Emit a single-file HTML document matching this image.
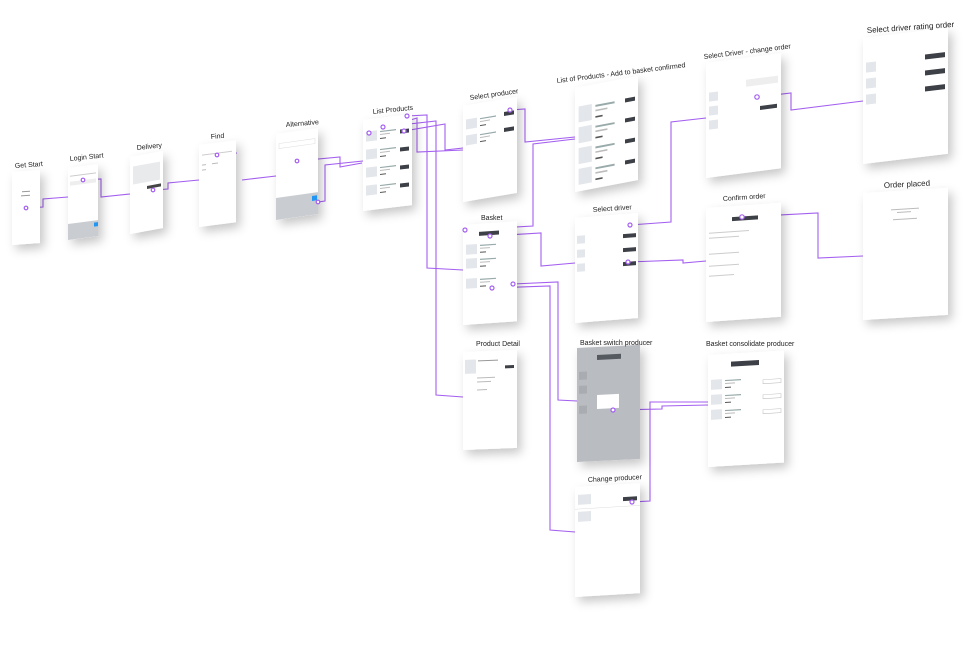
<!DOCTYPE html>
<html><head><meta charset="utf-8"><style>
html,body{margin:0;padding:0;background:#fff;}
svg{display:block}
text{font-family:"Liberation Sans",sans-serif;fill:#222}
</style></head><body>
<svg width="979" height="668" viewBox="0 0 979 668" xmlns="http://www.w3.org/2000/svg">
<defs>
<filter id="sh" x="-30%" y="-20%" width="170%" height="150%">
<feDropShadow dx="4" dy="5" stdDeviation="5" flood-color="#000" flood-opacity="0.22"/>
</filter>
<g id="row">
<rect x="3" y="0" width="11" height="10" fill="#e3e6ea"/>
<rect x="17" y="1" width="16" height="1.2" fill="#9aa"/>
<rect x="17" y="4" width="10" height="1" fill="#bbb"/>
<rect x="17" y="8" width="6" height="1" fill="#555"/>
</g>
</defs>

<!-- connectors -->
<g fill="none" stroke="#a45ff0" stroke-width="1.1">
<polyline points="26,208 43,207 43,199 68,197"/>
<polyline points="83,180 101,179 101,197 130,194"/>
<polyline points="153,190 168,189 168,183 199,180"/>
<polyline points="217,155 237,153"/>
<polyline points="242,180 276,176"/>
<polyline points="297,161 340,157 340,167 362,163"/>
<polyline points="318,202 325,201 325,165 363,161"/>
<polyline points="407,116 427,115 427,268 463,270"/>
<polyline points="383,127 436,121 436,395 463,397"/>
<polyline points="404,131 445,124 445,150 463,148"/>
<polyline points="369,133 417,118 417,152 463,150"/>
<polyline points="510,110 525,109 525,142 575,137"/>
<polyline points="465,230 533,226 533,144 575,139"/>
<polyline points="490,236 541,233 541,266 575,263"/>
<polyline points="513,284 558,282 558,400 577,401"/>
<polyline points="492,288 550,286 550,530 575,532"/>
<polyline points="630,225 671,222 671,122 706,118"/>
<polyline points="628,262 683,260 683,263 706,261"/>
<polyline points="757,97 791,93 791,110 863,101"/>
<polyline points="742,217 818,213 818,258 863,256"/>
<polyline points="613,410 662,409 662,406 708,405"/>
<polyline points="632,502 650,501 650,402 708,402"/>
</g>

<!-- cards: matrix(1,slope,0,1,x,y) -->
<g filter="url(#sh)">
<g transform="matrix(1,-0.07,0,1,12,172)"><rect width="28" height="73" fill="#fff"/><rect x="10" y="20" width="8" height="1" fill="#999"/><rect x="9" y="24" width="9" height="1" fill="#999"/></g>
<g transform="matrix(1,-0.13,0,1,68,168)"><rect width="30" height="72" fill="#fff"/><rect x="2" y="8" width="26" height="1" fill="#ccc"/><rect x="2" y="14" width="26" height="4" fill="#eee"/><rect x="0" y="56" width="30" height="16" fill="#c9ccd1"/><rect x="26" y="58" width="4" height="4" fill="#2196f3"/></g>
<g transform="matrix(1,-0.18,0,1,130,157)"><rect width="33" height="77" fill="#fff"/><rect x="3" y="10" width="27" height="18" fill="#e9eaec"/><rect x="17" y="32" width="14" height="3" fill="#444"/></g>
<g transform="matrix(1,-0.13,0,1,199,145)"><rect width="37" height="82" fill="#fff"/><rect x="3" y="10" width="30" height="1" fill="#ccc"/><rect x="3" y="20" width="4" height="1" fill="#bbb"/><rect x="13" y="20" width="6" height="1" fill="#bbb"/><rect x="3" y="25" width="4" height="1" fill="#bbb"/></g>
<g transform="matrix(1,-0.14,0,1,276,134)"><rect width="42" height="86" fill="#fff"/><rect x="3" y="10" width="36" height="5" fill="#fff" stroke="#ddd" stroke-width=".5"/><rect x="0" y="64" width="42" height="22" fill="#c9ccd1"/><rect x="36" y="67" width="5" height="5" fill="#2196f3"/></g>
<g transform="matrix(1,-0.12,0,1,363,120)"><rect width="49" height="91" fill="#fff"/><use href="#row" y="12"/><rect x="37" y="14" width="9" height="4" fill="#3d4047"/><use href="#row" y="30"/><rect x="37" y="32" width="9" height="4" fill="#3d4047"/><use href="#row" y="48"/><rect x="37" y="50" width="9" height="4" fill="#3d4047"/><use href="#row" y="66"/><rect x="37" y="68" width="9" height="4" fill="#3d4047"/></g>
<g transform="matrix(1,-0.17,0,1,463,106)"><rect width="54" height="96" fill="#fff"/><use href="#row" y="14"/><rect x="41" y="13" width="10" height="4" fill="#3d4047"/><use href="#row" y="30"/><rect x="41" y="29" width="10" height="4" fill="#3d4047"/></g>
<g transform="matrix(1,-0.07,0,1,463,225)"><rect width="54" height="100" fill="#fff"/><rect x="16" y="8" width="20" height="4" fill="#3d4047"/><use href="#row" y="20"/><use href="#row" y="34"/><use href="#row" y="54"/></g>
<g transform="matrix(1,-0.04,0,1,463,352)"><rect width="54" height="98" fill="#fff"/><rect x="2" y="8" width="11" height="14" fill="#e3e6ea"/><rect x="15" y="9" width="20" height="1" fill="#999"/><rect x="42" y="15" width="9" height="3" fill="#3d4047"/><rect x="14" y="26" width="18" height="1" fill="#bbb"/><rect x="14" y="30" width="14" height="1" fill="#bbb"/><rect x="14" y="38" width="10" height="1" fill="#bbb"/></g>
<g transform="matrix(1,-0.19,0,1,575,88)"><rect width="63" height="104" fill="#fff"/><use href="#row" y="12" transform="scale(1.2,1.6)"/><rect x="50" y="20" width="10" height="4" fill="#3d4047"/><use href="#row" y="25" transform="scale(1.2,1.6)"/><rect x="50" y="40" width="10" height="4" fill="#3d4047"/><use href="#row" y="38" transform="scale(1.2,1.6)"/><rect x="50" y="61" width="10" height="4" fill="#3d4047"/><use href="#row" y="51" transform="scale(1.2,1.6)"/><rect x="50" y="82" width="10" height="4" fill="#3d4047"/></g>
<g transform="matrix(1,-0.08,0,1,575,218)"><rect width="63" height="105" fill="#fff"/><rect x="2" y="18" width="8" height="8" fill="#e3e6ea"/><rect x="48" y="20" width="13" height="4" fill="#3d4047"/><rect x="2" y="32" width="8" height="8" fill="#e3e6ea"/><rect x="48" y="34" width="13" height="4" fill="#3d4047"/><rect x="2" y="46" width="8" height="8" fill="#e3e6ea"/><rect x="48" y="48" width="13" height="4" fill="#3d4047"/></g>
<g transform="matrix(1,-0.05,0,1,577,348)"><rect width="63" height="114" fill="#b9bcc1"/><rect x="20" y="8" width="24" height="5" fill="#555a61"/><rect x="2" y="24" width="8" height="8" fill="#a9acb1"/><rect x="2" y="38" width="8" height="8" fill="#a9acb1"/><rect x="2" y="58" width="8" height="8" fill="#a9acb1"/><rect x="20" y="48" width="22" height="14" fill="#fff"/></g>
<g transform="matrix(1,-0.06,0,1,575,487)"><rect width="65" height="110" fill="#fff"/><rect x="3" y="8" width="13" height="10" fill="#e3e6ea"/><rect x="48" y="13" width="14" height="4" fill="#3d4047"/><rect x="3" y="25" width="13" height="10" fill="#e3e6ea"/><rect x="0" y="22" width="65" height=".5" fill="#ddd"/></g>
<g transform="matrix(1,-0.13,0,1,706,63)"><rect width="75" height="115" fill="#fff"/><rect x="3" y="30" width="9" height="9" fill="#e3e6ea"/><rect x="3" y="44" width="9" height="9" fill="#e3e6ea"/><rect x="3" y="58" width="9" height="9" fill="#e3e6ea"/><rect x="54" y="50" width="17" height="4" fill="#3d4047"/><rect x="40" y="22" width="32" height="7" fill="#eee"/></g>
<g transform="matrix(1,-0.07,0,1,706,208)"><rect width="75" height="114" fill="#fff"/><rect x="26" y="11" width="26" height="4" fill="#3d4047"/><rect x="3" y="25" width="40" height="1" fill="#ccc"/><rect x="3" y="30" width="30" height="1" fill="#ccc"/><rect x="3" y="46" width="30" height="1" fill="#ccc"/><rect x="3" y="58" width="30" height="1" fill="#ccc"/><rect x="3" y="68" width="25" height="1" fill="#ccc"/></g>
<g transform="matrix(1,-0.06,0,1,708,355)"><rect width="76" height="112" fill="#fff"/><rect x="23" y="8" width="28" height="5" fill="#3d4047"/><use href="#row" y="25"/><use href="#row" y="40"/><use href="#row" y="55"/><rect x="55" y="28" width="18" height="4" fill="none" stroke="#bbb" stroke-width=".5"/><rect x="55" y="43" width="18" height="4" fill="none" stroke="#bbb" stroke-width=".5"/><rect x="55" y="58" width="18" height="4" fill="none" stroke="#bbb" stroke-width=".5"/></g>
<g transform="matrix(1,-0.12,0,1,863,38)"><rect width="85" height="126" fill="#fff"/><rect x="3" y="25" width="10" height="10" fill="#e3e6ea"/><rect x="62" y="24" width="20" height="5" fill="#3d4047"/><rect x="3" y="41" width="10" height="10" fill="#e3e6ea"/><rect x="62" y="40" width="20" height="5" fill="#3d4047"/><rect x="3" y="57" width="10" height="10" fill="#e3e6ea"/><rect x="62" y="56" width="20" height="5" fill="#3d4047"/></g>
<g transform="matrix(1,-0.06,0,1,863,193)"><rect width="85" height="127" fill="#fff"/><rect x="28" y="18" width="28" height="1" fill="#bbb"/><rect x="34" y="21" width="14" height="1" fill="#bbb"/><rect x="30" y="28" width="24" height="1" fill="#bbb"/></g>
</g>

<!-- dots -->
<g fill="#fff" stroke="#a45ff0" stroke-width="1.2">
<circle cx="26" cy="208" r="1.8"/><circle cx="83" cy="180" r="1.8"/><circle cx="153" cy="190" r="1.8"/><circle cx="217" cy="155" r="1.8"/><circle cx="297" cy="161" r="1.8"/><circle cx="318" cy="202" r="1.8"/><circle cx="407" cy="116" r="2"/><circle cx="383" cy="127" r="2"/><circle cx="404" cy="131" r="2"/><circle cx="369" cy="133" r="2"/><circle cx="510" cy="110" r="2"/><circle cx="465" cy="230" r="2"/><circle cx="490" cy="236" r="2"/><circle cx="513" cy="284" r="2"/><circle cx="492" cy="288" r="2"/><circle cx="630" cy="225" r="2"/><circle cx="628" cy="262" r="2"/><circle cx="757" cy="97" r="2.2"/><circle cx="742" cy="217" r="2.2"/><circle cx="613" cy="410" r="2"/><circle cx="632" cy="502" r="2"/>
</g>

<!-- labels -->
<g font-size="7">
<text x="15" y="168" transform="rotate(-4 15 168)">Get Start</text>
<text x="70" y="161" transform="rotate(-6 70 161)">Login Start</text>
<text x="137" y="150" transform="rotate(-6 137 150)">Delivery</text>
<text x="211" y="139" transform="rotate(-5 211 139)">Find</text>
<text x="286" y="127" transform="rotate(-5 286 127)">Alternative</text>
<text x="373" y="114" transform="rotate(-6 373 114)">List Products</text>
<text x="470" y="100" transform="rotate(-8 470 100)">Select producer</text>
<text x="481" y="220">Basket</text>
<text x="476" y="346">Product Detail</text>
<text x="557" y="83" transform="rotate(-7 557 83)">List of Products - Add to basket confirmed</text>
<text x="593" y="212" transform="rotate(-4 593 212)">Select driver</text>
<text x="580" y="345">Basket switch producer</text>
<text x="588" y="482" transform="rotate(-3 588 482)">Change producer</text>
<text x="704" y="59" transform="rotate(-7 704 59)">Select Driver - change order</text>
<text x="723" y="201" transform="rotate(-4 723 201)">Confirm order</text>
<text x="706" y="346" font-size="7">Basket consolidate producer</text>
<text x="867" y="33" font-size="8" transform="rotate(-4 867 33)">Select driver rating order</text>
<text x="884" y="188" font-size="8" transform="rotate(-3 884 188)">Order placed</text>
</g>
</svg>
</body></html>
